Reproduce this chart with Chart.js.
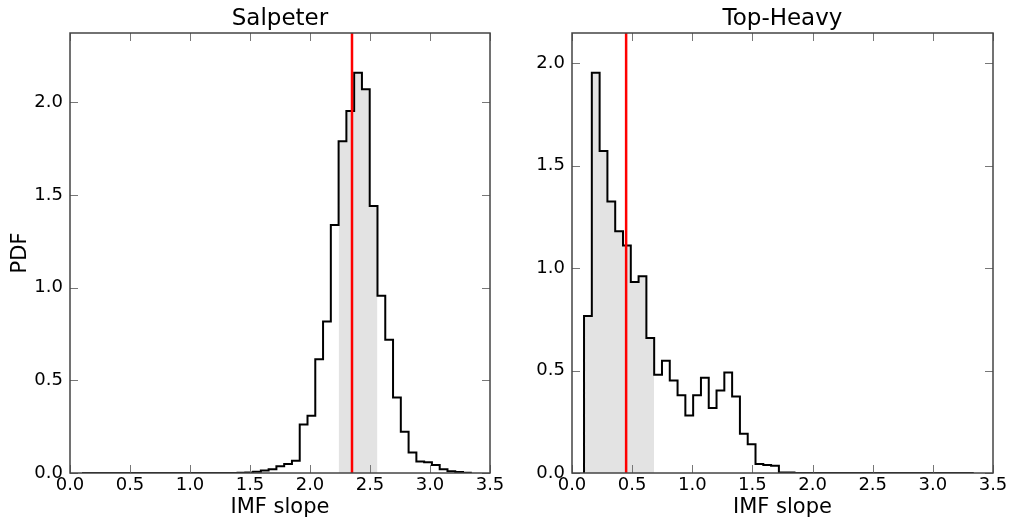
<!DOCTYPE html>
<html>
<head>
<meta charset="utf-8">
<title>IMF slope PDF</title>
<script src="https://cdn.jsdelivr.net/npm/chart.js@4.4.1/dist/chart.umd.min.js"></script>
<style>
  html, body { margin: 0; padding: 0; background: #fff; }
  #wrap { position: relative; width: 1010px; height: 523px; }
  canvas { position: absolute; top: 0; }
  #salpeter-chart { left: 0; }
  #topheavy-chart { left: 505px; }
</style>
</head>
<body>
<div id="wrap">
  <canvas id="salpeter-chart" width="505" height="523"></canvas>
  <canvas id="topheavy-chart" width="505" height="523"></canvas>
</div>
<script>
// histogram grid (both panels use the same 50 bins)
const binStart = 0.1;
const binWidth = 0.0648;

const xTickValues = [0, 0.5, 1.0, 1.5, 2.0, 2.5, 3.0, 3.5];
const yTickValues = [0, 0.5, 1.0, 1.5, 2.0];

// PDF per bin
const salpeterPdf = [
  0, 0, 0, 0, 0, 0, 0, 0, 0, 0,
  0, 0, 0, 0, 0, 0, 0, 0, 0, 0,
  0.001, 0.003, 0.007, 0.013, 0.020, 0.036, 0.049, 0.066, 0.262, 0.309,
  0.614, 0.818, 1.338, 1.790, 1.953, 2.160, 2.070, 1.440, 0.956, 0.719,
  0.407, 0.222, 0.111, 0.062, 0.058, 0.043, 0.020, 0.010, 0.005, 0.002
];
const topHeavyPdf = [
  0.767, 1.954, 1.572, 1.325, 1.180, 1.111, 0.932, 0.961, 0.659, 0.480,
  0.548, 0.452, 0.379, 0.281, 0.379, 0.465, 0.317, 0.403, 0.491, 0.374,
  0.192, 0.140, 0.044, 0.039, 0.036, 0.003, 0.002, 0, 0, 0,
  0, 0, 0, 0, 0, 0, 0, 0, 0, 0,
  0, 0, 0, 0, 0, 0, 0, 0, 0, 0
];

// shaded interval and reference slope (red line)
const salpeterShade = [2.239, 2.562];
const topHeavyShade = [0.1, 0.683];
const salpeterSlope = 2.35;
const topHeavySlope = 0.45;

const salpeterYMax = 2.374;
const topHeavyYMax = 2.148;

Chart.defaults.font.family = '"DejaVu Sans", "Liberation Sans", sans-serif';
Chart.defaults.color = '#000';

function stepPoints(pdf) {
  const pts = [{ x: binStart, y: 0 }];
  pdf.forEach((v, k) => pts.push({ x: binStart + k * binWidth, y: v }));
  pts.push({ x: binStart + pdf.length * binWidth, y: 0 });
  return pts;
}

function binAt(pdf, x) {
  const k = Math.floor((x - binStart) / binWidth);
  return Math.min(pdf.length - 1, Math.max(0, k));
}

// outline of the histogram restricted to [lo, hi], filled down to zero
function shadePoints(pdf, lo, hi) {
  const pts = [{ x: lo, y: pdf[binAt(pdf, lo)] }];
  for (let k = 0; k <= pdf.length; k++) {
    const e = binStart + k * binWidth;
    if (e > lo + 1e-6 && e < hi - 1e-6) pts.push({ x: e, y: pdf[k] });
  }
  pts.push({ x: hi, y: pdf[binAt(pdf, hi - 1e-6)] });
  return pts;
}

// matplotlib-style frame with inward ticks on all four sides
const frameTicks = {
  id: 'frameTicks',
  afterDatasetsDraw(chart) {
    const { ctx, chartArea: a, scales: { x, y } } = chart;
    ctx.save();
    ctx.strokeStyle = '#777';
    ctx.lineWidth = 1;
    ctx.beginPath();
    x.ticks.forEach(t => {
      const px = Math.round(x.getPixelForValue(t.value)) + 0.5;
      ctx.moveTo(px, a.bottom); ctx.lineTo(px, a.bottom - 8);
      ctx.moveTo(px, a.top); ctx.lineTo(px, a.top + 8);
    });
    y.ticks.forEach(t => {
      const py = Math.round(y.getPixelForValue(t.value)) + 0.5;
      ctx.moveTo(a.left, py); ctx.lineTo(a.left + 8, py);
      ctx.moveTo(a.right, py); ctx.lineTo(a.right - 8, py);
    });
    ctx.stroke();
    ctx.strokeStyle = '#444';
    ctx.lineWidth = 1.5;
    ctx.strokeRect(a.left, a.top, a.width, a.height);
    ctx.restore();
  }
};

function makePanel(id, cfg) {
  const el = document.getElementById(id);
  return new Chart(el.getContext('2d'), {
    type: 'line',
    data: {
      datasets: [
        {
          label: 'slope',
          data: [{ x: cfg.slope, y: 0 }, { x: cfg.slope, y: cfg.yMax }],
          borderColor: '#ff0000',
          borderWidth: 2.5,
          pointRadius: 0,
          fill: false,
          order: 0,
        },
        {
          label: 'pdf',
          data: stepPoints(cfg.pdf),
          stepped: 'before',
          borderColor: '#000',
          borderWidth: 2,
          pointRadius: 0,
          fill: false,
          order: 1,
        },
        {
          label: 'interval',
          data: shadePoints(cfg.pdf, cfg.shade[0], cfg.shade[1]),
          stepped: 'before',
          borderWidth: 0,
          borderColor: 'rgba(0,0,0,0)',
          backgroundColor: '#e3e3e3',
          pointRadius: 0,
          fill: 'origin',
          order: 2,
        },
      ],
    },
    options: {
      responsive: false,
      animation: false,
      devicePixelRatio: 1,
      layout: { padding: { left: 0, right: cfg.padRight, top: 0, bottom: 0 } },
      plugins: {
        legend: { display: false },
        tooltip: { enabled: false },
        title: {
          display: true,
          text: cfg.title,
          fullSize: false,
          color: '#000',
          font: { size: 23, weight: 'normal' },
          padding: { top: 5, bottom: 0.4 },
        },
      },
      scales: {
        x: {
          type: 'linear',
          min: 0,
          max: 3.5,
          grid: { display: false, drawTicks: false },
          border: { display: false },
          afterBuildTicks: (s) => { s.ticks = xTickValues.map(v => ({ value: v })); },
          ticks: {
            padding: 2,
            autoSkip: false,
            maxRotation: 0,
            font: { size: 18 },
            callback: (v) => Number(v).toFixed(1),
          },
          title: {
            display: true,
            text: 'IMF slope',
            font: { size: 21, weight: 'normal' },
            padding: { top: 0, bottom: 3 },
          },
          afterFit: (s) => { s.height = 50; s.paddingLeft = 0; s.paddingRight = 0; },
        },
        y: {
          min: 0,
          max: cfg.yMax,
          grid: { display: false, drawTicks: false },
          border: { display: false },
          afterBuildTicks: (s) => { s.ticks = yTickValues.map(v => ({ value: v })); },
          ticks: {
            padding: 7,
            font: { size: 18 },
            callback: (v) => Number(v).toFixed(1),
          },
          title: {
            display: cfg.showYTitle,
            text: 'PDF',
            font: { size: 21, weight: 'normal' },
            padding: { top: 8, bottom: 0 },
          },
          afterFit: (s) => { s.width = cfg.yWidth; s.paddingTop = 0; s.paddingBottom = 0; },
        },
      },
    },
    plugins: [frameTicks],
  });
}

makePanel('salpeter-chart', {
  title: 'Salpeter',
  pdf: salpeterPdf,
  shade: salpeterShade,
  slope: salpeterSlope,
  yMax: salpeterYMax,
  yWidth: 70,
  padRight: 15,
  showYTitle: true,
});

makePanel('topheavy-chart', {
  title: 'Top-Heavy',
  pdf: topHeavyPdf,
  shade: topHeavyShade,
  slope: topHeavySlope,
  yMax: topHeavyYMax,
  yWidth: 67,
  padRight: 17,
  showYTitle: false,
});
</script>
</body>
</html>
